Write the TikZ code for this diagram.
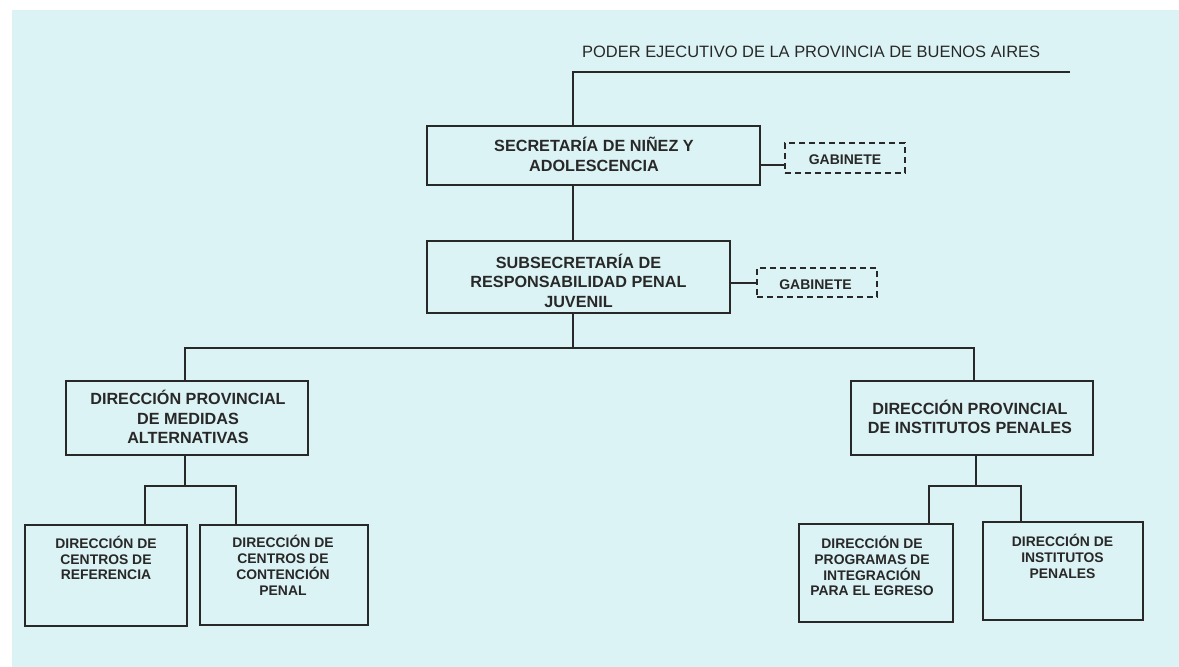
\documentclass[tikz,border=0pt]{standalone}
\usepackage{fontspec}
\setmainfont{Liberation Sans}
\definecolor{bgc}{RGB}{220,243,245}
\definecolor{ink}{RGB}{40,40,40}
\begin{document}
\begin{tikzpicture}[x=1pt,y=-1pt,
  box/.style={draw=ink,line width=1.7pt,inner sep=0pt,rectangle},
  gab/.style={draw=ink,line width=1.3pt,dash pattern=on 6pt off 4pt,inner sep=0pt,rectangle},
  ln/.style={draw=ink,line width=1.7pt},
  txt/.style={text=ink,inner sep=0pt,align=center},
  bigf/.style={font=\bfseries\fontsize{16.2}{#1}\selectfont},
  smallf/.style={font=\bfseries\fontsize{13.9}{#1}\selectfont}]
\useasboundingbox (0,0) rectangle (1179,667);
\fill[white] (0,0) rectangle (1179,667);
\fill[bgc] (12,10) rectangle (1179,667);

% title
\node[txt,anchor=base west,font=\fontsize{16.45}{18}\selectfont] (title) at (582,57) {PODER EJECUTIVO DE LA PROVINCIA DE BUENOS AIRES};

% boxes
\node[box,minimum width=333pt,minimum height=59pt] (sec) at (593.5,155.5) {};
\node[txt,bigf=19.5] (secT) at (594,154.5) {SECRETARÍA DE NIÑEZ Y\\ADOLESCENCIA};
\node[gab,minimum width=120pt,minimum height=30pt] (gab1) at (845,158) {};
\node[txt,font=\bfseries\fontsize{14}{16}\selectfont] (gab1T) at (845,160) {GABINETE};

\node[box,minimum width=303pt,minimum height=72pt] (sub) at (578.5,277) {};
\node[txt,bigf=19.5] (subT) at (578.5,280.5) {SUBSECRETARÍA DE\\RESPONSABILIDAD PENAL\\JUVENIL};
\node[gab,minimum width=120pt,minimum height=29pt] (gab2) at (817,282.5) {};
\node[txt,font=\bfseries\fontsize{14}{16}\selectfont] (gab2T) at (815.5,285) {GABINETE};

\node[box,minimum width=242pt,minimum height=74pt] (dpma) at (187,418) {};
\node[txt,bigf=19.5] (dpmaT) at (188,417) {DIRECCIÓN PROVINCIAL\\DE MEDIDAS\\ALTERNATIVAS};
\node[box,minimum width=242pt,minimum height=74pt] (dpip) at (972,418) {};
\node[txt,bigf=19.5] (dpipT) at (970,417) {DIRECCIÓN PROVINCIAL\\DE INSTITUTOS PENALES};

\node[box,minimum width=162pt,minimum height=101pt] (l1) at (106,575.5) {};
\node[txt,smallf=15.8] (l1T) at (106,558) {DIRECCIÓN DE\\CENTROS DE\\REFERENCIA};
\node[box,minimum width=168pt,minimum height=100pt] (l2) at (284,575) {};
\node[txt,smallf=15.9] (l2T) at (283,565.5) {DIRECCIÓN DE\\CENTROS DE\\CONTENCIÓN\\PENAL};

\node[box,minimum width=154pt,minimum height=98pt] (r1) at (876,573) {};
\node[txt,smallf=15.9] (r1T) at (872,566) {DIRECCIÓN DE\\PROGRAMAS DE\\INTEGRACIÓN\\PARA EL EGRESO};
\node[box,minimum width=160pt,minimum height=98pt] (r2) at (1063,571) {};
\node[txt,smallf=16] (r2T) at (1062.5,556) {DIRECCIÓN DE\\INSTITUTOS\\PENALES};

% connectors
\coordinate (tl) at (573,72);
\coordinate (tr) at (1070,72);
\draw[ln] (tr) -- (tl) -- (tl |- sec.north);
\draw[ln] (sec.south -| tl) -- (sub.north -| tl);
\coordinate (g1) at (0,165);
\draw[ln] (sec.east |- g1) -- (gab1.west |- g1);
\coordinate (g2) at (0,283);
\draw[ln] (sub.east |- g2) -- (gab2.west |- g2);

\coordinate (hl) at (185,348);
\coordinate (hr) at (974,348);
\draw[ln] (sub.south -| tl) -- (tl |- hl);
\draw[ln] (dpma.north -| hl) -- (hl) -- (hr) -- (dpip.north -| hr);

\coordinate (mc) at (185,486);
\coordinate (ml) at (145,486);
\coordinate (mr) at (236,486);
\draw[ln] (dpma.south -| mc) -- (mc);
\draw[ln] (l1.north -| ml) -- (ml) -- (mr) -- (l2.north -| mr);

\coordinate (rc) at (976,486);
\coordinate (rl) at (929,486);
\coordinate (rr) at (1021,486);
\draw[ln] (dpip.south -| rc) -- (rc);
\draw[ln] (r1.north -| rl) -- (rl) -- (rr) -- (r2.north -| rr);
\end{tikzpicture}
\end{document}
